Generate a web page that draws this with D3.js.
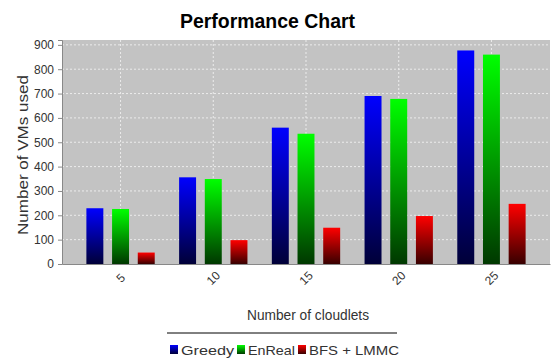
<!DOCTYPE html>
<html>
<head>
<meta charset="utf-8">
<script src="https://cdn.jsdelivr.net/npm/d3@7"></script>
<style>
  body { margin: 0; background: #fff; }
  svg { display: block; font-family: "Liberation Sans", Arial, sans-serif; }
</style>
</head>
<body>
<div id="chart"></div>
<script>
// --- data
const categories = ["5", "10", "15", "20", "25"];
const seriesNames = ["Greedy", "EnReal", "BFS + LMMC"];
const greedy = [229, 356, 560, 690, 877];
const enReal = [226, 349, 535, 678, 860];
const bfsLmmc = [47, 98, 149, 197, 247];
const yTicks = [0, 100, 200, 300, 400, 500, 600, 700, 800, 900];

const seriesValues = [greedy, enReal, bfsLmmc];
const colors = [
  { top: "#0000ff", bottom: "#000038" },
  { top: "#00ff00", bottom: "#003800" },
  { top: "#ff0000", bottom: "#380000" }
];

const W = 552, H = 359;
const plot = { left: 62, right: 550, top: 40, bottom: 264 };

const svg = d3.select("#chart").append("svg").attr("width", W).attr("height", H);

// gradients (vertical, bright on top)
const defs = svg.append("defs");
colors.forEach((c, i) => {
  const g = defs.append("linearGradient").attr("id", "grad" + i)
    .attr("x1", 0).attr("y1", 0).attr("x2", 0).attr("y2", 1);
  g.append("stop").attr("offset", "0%").attr("stop-color", c.top);
  g.append("stop").attr("offset", "100%").attr("stop-color", c.bottom);
});

// title
svg.append("text")
  .attr("x", 180).attr("y", 28)
  .attr("textLength", 175).attr("lengthAdjust", "spacingAndGlyphs")
  .style("font-size", "21px").style("font-weight", "bold")
  .style("fill", "#000")
  .text("Performance Chart");

// scales
const x0 = d3.scaleBand().domain(categories)
  .range([plot.left, plot.right]).paddingInner(0.263).paddingOuter(0.263);
const x1 = d3.scaleBand().domain(d3.range(seriesNames.length))
  .range([0, x0.bandwidth()]).paddingInner(0.34);
const y = d3.scaleLinear().domain([0, 920]).range([plot.bottom, plot.top]);

// plot background
svg.append("rect")
  .attr("x", plot.left).attr("y", plot.top)
  .attr("width", plot.right - plot.left).attr("height", plot.bottom - plot.top)
  .attr("fill", "#c3c3c3");

// grid lines
svg.append("g").selectAll("line").data(yTicks.filter(d => d > 0)).join("line")
  .attr("x1", plot.left).attr("x2", plot.right)
  .attr("y1", d => y(d)).attr("y2", d => y(d))
  .attr("stroke", "#ececec").attr("stroke-width", 1).attr("stroke-dasharray", "2,2");
svg.append("g").selectAll("line").data(categories).join("line")
  .attr("x1", d => x0(d) + x0.bandwidth() / 2).attr("x2", d => x0(d) + x0.bandwidth() / 2)
  .attr("y1", plot.top).attr("y2", plot.bottom)
  .attr("stroke", "#ececec").attr("stroke-width", 1).attr("stroke-dasharray", "2,2");

// bars
const groups = svg.append("g").selectAll("g").data(categories).join("g")
  .attr("transform", d => `translate(${x0(d)},0)`);
groups.selectAll("rect")
  .data((c, ci) => seriesValues.map((vals, si) => ({ si, v: vals[ci] })))
  .join("rect")
  .attr("x", d => x1(d.si))
  .attr("width", x1.bandwidth())
  .attr("y", d => y(d.v))
  .attr("height", d => y(0) - y(d.v))
  .attr("fill", d => `url(#grad${d.si})`);

// axes
const yAxis = svg.append("g").attr("transform", `translate(${plot.left},0)`)
  .call(d3.axisLeft(y).tickValues(yTicks).tickSize(4).tickPadding(4));
yAxis.select(".domain").attr("stroke", "#888");
yAxis.selectAll(".tick line").attr("stroke", "#888");
yAxis.selectAll(".tick text").style("font-size", "12px").style("fill", "#333");

const xAxis = svg.append("g").attr("transform", `translate(0,${plot.bottom})`)
  .call(d3.axisBottom(x0).tickSize(0).tickPadding(0));
xAxis.select(".domain").attr("stroke", "#888");
xAxis.selectAll(".tick text")
  .attr("transform", "translate(0,14) rotate(-45)")
  .attr("dy", "0.35em")
  .attr("text-anchor", "middle")
  .style("font-size", "12px").style("fill", "#333");

// axis labels
svg.append("text")
  .attr("x", 247).attr("y", 320)
  .attr("textLength", 122).attr("lengthAdjust", "spacingAndGlyphs")
  .style("font-size", "14px").style("fill", "#333")
  .text("Number of cloudlets");
svg.append("text")
  .attr("transform", `translate(28,235) rotate(-90)`)
  .attr("textLength", 160).attr("lengthAdjust", "spacingAndGlyphs")
  .style("font-size", "14px").style("fill", "#333")
  .text("Number of VMs used");

// legend
svg.append("line")
  .attr("x1", 167).attr("x2", 397).attr("y1", 333).attr("y2", 333)
  .attr("stroke", "#000").attr("stroke-width", 1);
const legendX = [170, 237, 298];
const legendW = [53, 47, 90];
const leg = svg.append("g").selectAll("g").data(seriesNames).join("g")
  .attr("transform", (d, i) => `translate(${legendX[i]},345)`);
leg.append("rect").attr("width", 8).attr("height", 9)
  .attr("fill", (d, i) => `url(#grad${i})`);
leg.append("text").attr("x", 11).attr("y", 10)
  .attr("textLength", (d, i) => legendW[i]).attr("lengthAdjust", "spacingAndGlyphs")
  .style("font-size", "13px").style("fill", "#333")
  .text(d => d);
</script>
</body>
</html>
